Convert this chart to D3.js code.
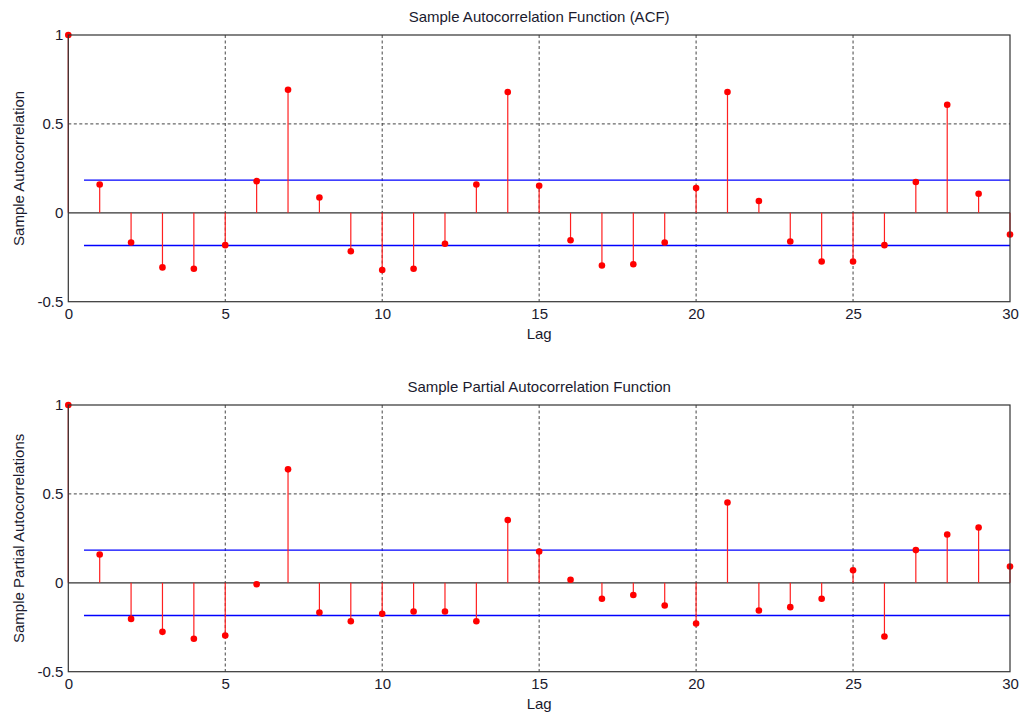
<!DOCTYPE html>
<html>
<head>
<meta charset="utf-8">
<script src="https://cdn.jsdelivr.net/npm/d3@7"></script>
<style>
  html, body { margin: 0; padding: 0; background: #fff; }
  text { font-family: "Liberation Sans", Arial, sans-serif; fill: #1a1a2e; }
</style>
</head>
<body>
<svg id="chart" width="1026" height="717"></svg>
<script>
const lags = d3.range(0, 31);
const acfValues = [1, 0.159, -0.167, -0.307, -0.315, -0.182, 0.178, 0.692, 0.086, -0.216,
  -0.322, -0.315, -0.174, 0.159, 0.679, 0.152, -0.154, -0.296, -0.289, -0.167,
  0.139, 0.679, 0.066, -0.161, -0.274, -0.274, -0.182, 0.173, 0.608, 0.107, -0.122];
const pacfValues = [1, 0.159, -0.203, -0.276, -0.315, -0.296, -0.008, 0.638, -0.167, -0.216,
  -0.174, -0.161, -0.161, -0.216, 0.353, 0.176, 0.017, -0.090, -0.069, -0.128,
  -0.229, 0.452, -0.156, -0.137, -0.090, 0.071, -0.302, 0.184, 0.272, 0.311, 0.092];
const confBounds = [0.184, -0.184];
const xTicks = [0, 5, 10, 15, 20, 25, 30];
const yTicks = [-0.5, 0, 0.5, 1];
const panels = [
  { title: "Sample Autocorrelation Function (ACF)", ylabel: "Sample Autocorrelation", values: acfValues, top: 35 },
  { title: "Sample Partial Autocorrelation Function", ylabel: "Sample Partial Autocorrelations", values: pacfValues, top: 405 }
];

const svg = d3.select("#chart");
const left = 68.3, right = 1010, ph = 266.7;
const x = d3.scaleLinear().domain([0, 30]).range([left, right]);
const FS = "15px";

panels.forEach(p => {
  const y = d3.scaleLinear().domain([-0.5, 1]).range([p.top + ph, p.top]);
  const g = svg.append("g");

  // grid lines (dashed)
  g.selectAll("line.vg").data(xTicks.filter(t => t > 0 && t < 30)).join("line")
    .attr("class", "vg")
    .attr("x1", d => x(d)).attr("x2", d => x(d))
    .attr("y1", p.top).attr("y2", p.top + ph)
    .style("stroke", "#444").style("stroke-width", 1).style("stroke-dasharray", "3,2.5");
  g.selectAll("line.hg").data(yTicks.filter(t => t === 0.5)).join("line")
    .attr("class", "hg")
    .attr("x1", left).attr("x2", right)
    .attr("y1", d => y(d)).attr("y2", d => y(d))
    .style("stroke", "#444").style("stroke-width", 1).style("stroke-dasharray", "3,2.5");

  // baseline
  g.append("line").attr("class", "base").attr("x1", left).attr("x2", right)
    .attr("y1", y(0)).attr("y2", y(0)).style("stroke", "#333").style("stroke-width", 1.2);

  // confidence bounds
  g.selectAll("line.bound").data(confBounds).join("line")
    .attr("class", "bound")
    .attr("x1", x(0.5)).attr("x2", x(30))
    .attr("y1", d => y(d)).attr("y2", d => y(d))
    .style("stroke", "#0000ff").style("stroke-width", 1.3);

  // stems
  g.selectAll("line.stem").data(p.values).join("line")
    .attr("class", "stem")
    .attr("x1", (d, i) => x(lags[i])).attr("x2", (d, i) => x(lags[i]))
    .attr("y1", y(0)).attr("y2", d => y(d))
    .style("stroke", "#ff2020").style("stroke-width", 1.2);
  g.selectAll("circle.pt").data(p.values).join("circle")
    .attr("class", "pt")
    .attr("cx", (d, i) => x(lags[i])).attr("cy", d => y(d))
    .attr("r", 3.3).style("fill", "#ff0000");

  // frame
  g.append("rect").attr("x", left).attr("y", p.top)
    .attr("width", right - left).attr("height", ph)
    .style("fill", "none").style("stroke", "#333").style("stroke-width", 1.2);

  // axes labels
  const xAxis = d3.axisBottom(x).tickValues(xTicks).tickSize(0).tickPadding(7).tickFormat(d3.format("d"));
  const xa = g.append("g").attr("transform", `translate(0,${p.top + ph})`).call(xAxis);
  xa.select(".domain").remove();
  xa.selectAll("text").style("font-size", FS).style("font-family", "Liberation Sans, Arial, sans-serif").style("fill", "#1a1a2e");

  const yAxis = d3.axisLeft(y).tickValues(yTicks).tickSize(0).tickPadding(5).tickFormat(d => d === 0 ? "0" : String(d));
  const ya = g.append("g").attr("transform", `translate(${left},0)`).call(yAxis);
  ya.select(".domain").remove();
  ya.selectAll("text").style("font-size", FS).style("font-family", "Liberation Sans, Arial, sans-serif").style("fill", "#1a1a2e");

  g.append("text").attr("x", (left + right) / 2).attr("y", p.top - 13)
    .attr("text-anchor", "middle").style("font-size", FS).text(p.title);
  g.append("text").attr("x", (left + right) / 2).attr("y", p.top + ph + 37.5)
    .attr("text-anchor", "middle").style("font-size", FS).text("Lag");
  g.append("text")
    .attr("transform", `translate(24,${p.top + ph / 2}) rotate(-90)`)
    .attr("text-anchor", "middle").style("font-size", FS).text(p.ylabel);
});
</script>
</body>
</html>
